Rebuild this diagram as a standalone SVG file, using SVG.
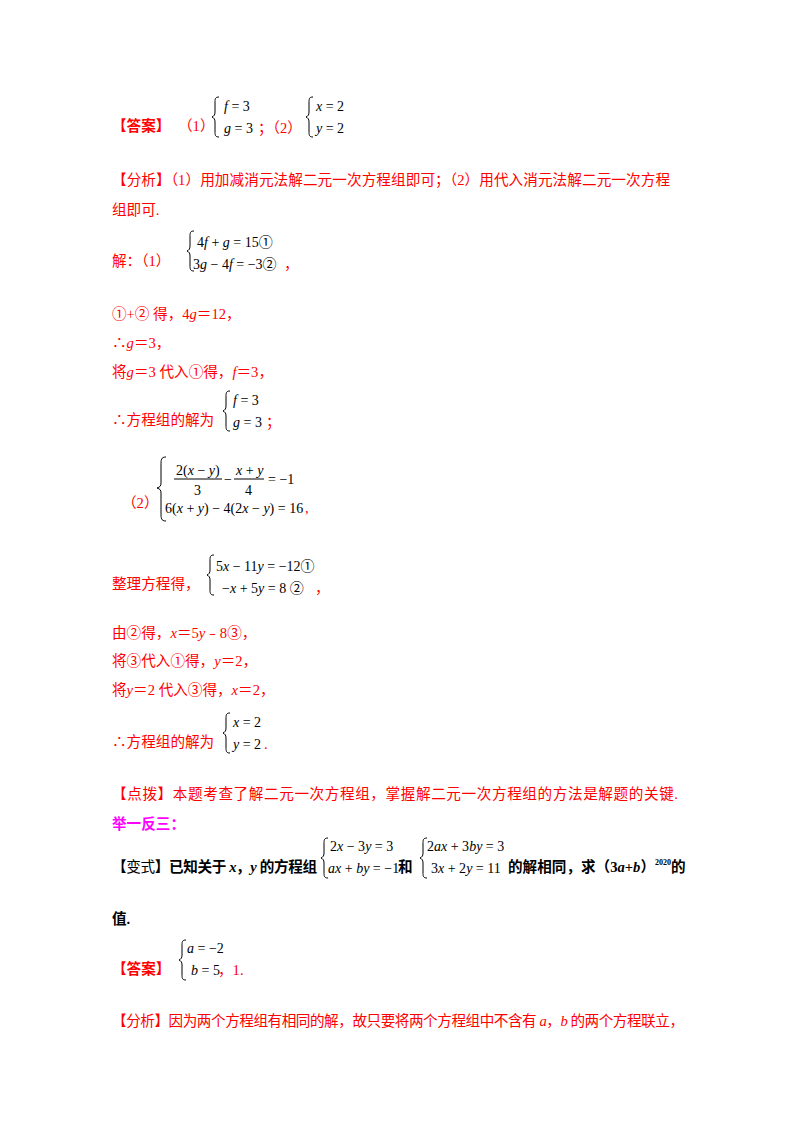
<svg xmlns="http://www.w3.org/2000/svg" width="800" height="1132" viewBox="0 0 800 1132">
<style>
text{font-family:"Liberation Serif","Noto Sans CJK SC",serif;font-size:14.6px}
.r{fill:#f00}
.k{fill:#000}
.m{font-family:"Liberation Serif","Noto Sans CJK SC",serif;font-size:14px;fill:#000}
.b{font-weight:bold}
.p{fill:#f0f;font-weight:bold}
.br{fill:none;stroke:#000;stroke-width:1}
</style>
<rect width="800" height="1132" fill="#fff"/>
<defs>
<path id="brace" d="M6,0 C2,0 2,2 2,6 L2,15 C2,18 1,19 -1,20 C1,21 2,22 2,25 L2,34 C2,38 2,40 6,40"/>
</defs>
<g id="content">
<text x="112" y="131" class="r b">【答案】</text><text x="178" y="131" class="r">（1）</text>
<use href="#brace" transform="translate(213,97)" class="br"/>
<text x="224" y="111" class="m"><tspan font-style="italic">f</tspan> = 3</text>
<text x="224" y="133" class="m"><tspan font-style="italic">g</tspan> = 3</text><text x="258" y="133" class="r">；（2）</text>
<use href="#brace" transform="translate(307,97)" class="br"/>
<text x="316" y="111" class="m"><tspan font-style="italic">x</tspan> = 2</text>
<text x="316" y="133" class="m"><tspan font-style="italic">y</tspan> = 2</text>

<text x="112" y="185" class="r" textLength="558">【分析】（1）用加减消元法解二元一次方程组即可；（2）用代入消元法解二元一次方程</text>
<text x="112" y="215" class="r">组即可.</text>

<text x="112" y="266" class="r">解：（1）</text>
<use href="#brace" transform="translate(188,231)" class="br"/>
<text x="197" y="247" class="m">4<tspan font-style="italic">f</tspan> + <tspan font-style="italic">g</tspan> = 15①</text>
<text x="193" y="269" class="m">3<tspan font-style="italic">g</tspan> − 4<tspan font-style="italic">f</tspan> = −3②</text><text x="284" y="269" class="r">，</text>

<text x="112" y="319" class="r">①+② 得，4<tspan font-style="italic">g</tspan>＝12，</text>
<text x="112" y="348" class="r">∴<tspan font-style="italic">g</tspan>＝3，</text>
<text x="112" y="377" class="r">将<tspan font-style="italic">g</tspan>＝3 代入①得，<tspan font-style="italic">f</tspan>＝3，</text>
<text x="112" y="425" class="r">∴方程组的解为</text>
<use href="#brace" transform="translate(224,391)" class="br"/>
<text x="233" y="405" class="m"><tspan font-style="italic">f</tspan> = 3</text>
<text x="233" y="427" class="m"><tspan font-style="italic">g</tspan> = 3</text><text x="266" y="427" class="r">；</text>

<text x="122" y="508" class="r">（2）</text>
<path d="M166,457 C161,457 161,460 161,465 L161,483 C161,486 160,487 157,488 C160,489 161,490 161,493 L161,513 C161,518 161,521 166,521" class="br"/>
<text x="176" y="475" class="m">2(<tspan font-style="italic">x</tspan> − <tspan font-style="italic">y</tspan>)</text>
<line x1="174" y1="479" x2="222" y2="479" stroke="#000"/>
<text x="194" y="495" class="m">3</text>
<text x="224" y="484" class="m">−</text>
<text x="236" y="475" class="m"><tspan font-style="italic">x</tspan> + <tspan font-style="italic">y</tspan></text>
<line x1="234" y1="479" x2="264" y2="479" stroke="#000"/>
<text x="245" y="495" class="m">4</text>
<text x="268" y="484" class="m">= −1</text>
<text x="165" y="513" class="m">6(<tspan font-style="italic">x</tspan> + <tspan font-style="italic">y</tspan>) − 4(2<tspan font-style="italic">x</tspan> − <tspan font-style="italic">y</tspan>) = 16</text><text x="305" y="513" class="r">,</text>

<text x="112" y="589" class="r">整理方程得，</text>
<use href="#brace" transform="translate(208,555)" class="br"/>
<text x="216" y="571" class="m">5<tspan font-style="italic">x</tspan> − 11<tspan font-style="italic">y</tspan> = −12①</text>
<text x="222" y="593" class="m">−<tspan font-style="italic">x</tspan> + 5<tspan font-style="italic">y</tspan> = 8 ②</text><text x="315" y="593" class="r">，</text>

<text x="112" y="638" class="r">由②得，<tspan font-style="italic">x</tspan>＝5<tspan font-style="italic">y</tspan>﹣8③，</text>
<text x="112" y="666" class="r">将③代入①得，<tspan font-style="italic">y</tspan>＝2，</text>
<text x="112" y="695" class="r">将<tspan font-style="italic">y</tspan>＝2 代入③得，<tspan font-style="italic">x</tspan>＝2，</text>
<text x="112" y="747" class="r">∴方程组的解为</text>
<use href="#brace" transform="translate(224,713)" class="br"/>
<text x="233" y="727" class="m"><tspan font-style="italic">x</tspan> = 2</text>
<text x="233" y="749" class="m"><tspan font-style="italic">y</tspan> = 2</text><text x="264" y="749" class="r">.</text>

<text x="112" y="799" class="r" textLength="566">【点拨】本题考查了解二元一次方程组，掌握解二元一次方程组的方法是解题的关键.</text>
<text x="112" y="829" class="p">举一反三：</text>
<text x="112" y="872" class="k b" textLength="205">【<tspan font-weight="normal">变式</tspan>】已知关于 <tspan font-style="italic">x</tspan>，<tspan font-style="italic">y</tspan> 的方程组</text>
<use href="#brace" transform="translate(322,838)" class="br"/>
<text x="330" y="851" class="m">2<tspan font-style="italic">x</tspan> − 3<tspan font-style="italic">y</tspan> = 3</text>
<text x="328" y="873" class="m"><tspan font-style="italic">ax</tspan> + <tspan font-style="italic">by</tspan> = −1</text><text x="398" y="872" class="k b">和</text>
<use href="#brace" transform="translate(421,838)" class="br"/>
<text x="427" y="851" class="m">2<tspan font-style="italic">ax</tspan> + 3<tspan font-style="italic">by</tspan> = 3</text>
<text x="431" y="873" class="m">3<tspan font-style="italic">x</tspan> + 2<tspan font-style="italic">y</tspan> = 11</text>
<text x="508" y="872" class="k b">的解相同，求（3<tspan font-style="italic">a</tspan>+<tspan font-style="italic">b</tspan>）<tspan font-size="8" dy="-7">2020</tspan><tspan dy="7">的</tspan></text>
<text x="112" y="924" class="k b">值.</text>

<text x="112" y="974" class="r b">【答案】</text>
<use href="#brace" transform="translate(180,940)" class="br"/>
<text x="187" y="953" class="m"><tspan font-style="italic">a</tspan> = −2</text>
<text x="191" y="975" class="m"><tspan font-style="italic">b</tspan> = 5</text><text x="218" y="975" class="r">，1.</text>

<text x="112" y="1026" class="r" textLength="572">【分析】因为两个方程组有相同的解，故只要将两个方程组中不含有 <tspan font-style="italic">a</tspan>，<tspan font-style="italic">b</tspan> 的两个方程联立，</text>
</g>
</svg>
